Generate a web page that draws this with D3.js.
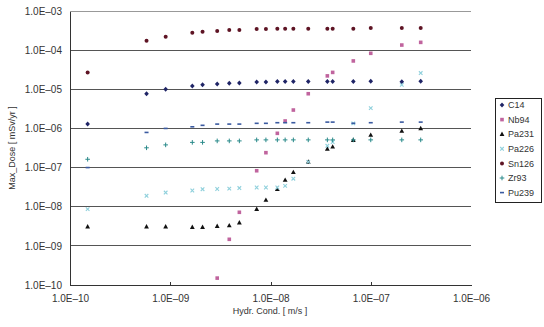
<!DOCTYPE html>
<html><head><meta charset="utf-8">
<script src="https://cdn.jsdelivr.net/npm/d3@7"></script>
<style>body{margin:0;background:#fff}svg{display:block}text{font-family:"Liberation Sans",Arial,sans-serif;fill:#333}</style>
</head><body><svg id="c" width="544" height="327"></svg>
<script>
const xValues = [1.5e-10,5.8e-10,9.0e-10,1.66e-9,2.1e-9,2.94e-9,3.88e-9,4.89e-9,7.28e-9,9.0e-9,1.17e-8,1.40e-8,1.69e-8,2.38e-8,3.69e-8,4.17e-8,6.7e-8,1.0e-7,2.04e-7,3.15e-7];
const seriesNames = ["C14","Nb94","Pa231","Pa226","Sn126","Zr93","Pu239"];
const C14   = [1.3e-6,7.7e-6,1.0e-5,1.21e-5,1.3e-5,1.37e-5,1.42e-5,1.45e-5,1.54e-5,1.54e-5,1.57e-5,1.58e-5,1.58e-5,1.58e-5,1.58e-5,1.58e-5,1.58e-5,1.6e-5,1.55e-5,1.6e-5];
const Nb94  = [null,null,null,null,null,1.5e-10,1.47e-9,7.2e-9,8.3e-8,2.4e-7,7.5e-7,1.55e-6,2.95e-6,7.7e-6,2.2e-5,2.7e-5,5.3e-5,8.3e-5,1.35e-4,1.58e-4];
const Pa231 = [3.1e-9,3.1e-9,3.1e-9,3.0e-9,3.0e-9,3.2e-9,3.3e-9,3.9e-9,8.7e-9,1.48e-8,2.8e-8,4.8e-8,7.6e-8,1.4e-7,3.0e-7,3.4e-7,5.0e-7,6.8e-7,8.6e-7,1.0e-6];
const Pa226 = [8.7e-9,1.9e-8,2.3e-8,2.6e-8,2.8e-8,2.84e-8,2.9e-8,3.0e-8,3.1e-8,3.1e-8,3.1e-8,3.4e-8,5.2e-8,1.4e-7,3.6e-7,4.5e-7,1.35e-6,3.3e-6,1.3e-5,2.6e-5];
const Sn126 = [2.7e-5,1.74e-4,2.2e-4,2.8e-4,2.96e-4,3.1e-4,3.27e-4,3.27e-4,3.47e-4,3.47e-4,3.5e-4,3.5e-4,3.5e-4,3.5e-4,3.5e-4,3.5e-4,3.5e-4,3.7e-4,3.7e-4,3.7e-4];
const Zr93  = [1.63e-7,3.2e-7,3.8e-7,4.4e-7,4.4e-7,4.8e-7,4.8e-7,4.8e-7,5.1e-7,5.1e-7,5.1e-7,5.1e-7,5.1e-7,5.1e-7,5.1e-7,5.1e-7,5.1e-7,5.1e-7,5.1e-7,5.1e-7];
const Pu239 = [1.0e-7,7.9e-7,1.0e-6,1.1e-6,1.2e-6,1.29e-6,1.29e-6,1.29e-6,1.35e-6,1.35e-6,1.4e-6,1.4e-6,1.4e-6,1.4e-6,1.45e-6,1.45e-6,1.35e-6,1.4e-6,1.45e-6,1.45e-6];
const xTicks = [1e-10,1e-9,1e-8,1e-7,1e-6];
const yTicks = [1e-10,1e-9,1e-8,1e-7,1e-6,1e-5,1e-4,1e-3];

const seriesData = [C14,Nb94,Pa231,Pa226,Sn126,Zr93,Pu239];
const styles = [
  {shape:"diamond", color:"#1f2466"},
  {shape:"square", color:"#c0649e"},
  {shape:"triangle", color:"#111111"},
  {shape:"x", color:"#8fd0dc"},
  {shape:"circle", color:"#5e1424"},
  {shape:"plus", color:"#2a8a8a"},
  {shape:"dash", color:"#3a5aa0"}
];

const svg = d3.select("#c");
const L=70,R=471,T=11,B=285;
const x = d3.scaleLog().domain([1e-10,1e-6]).range([L,R]);
const y = d3.scaleLog().domain([1e-10,1e-3]).range([B,T]);
const fmt = v => { const e=Math.round(Math.log10(v)); return "1.0E\u2013"+String(Math.abs(e)).padStart(2,"0"); };

svg.append("g").selectAll("line").data(yTicks.slice(1)).join("line")
  .attr("x1",L).attr("x2",R).attr("y1",d=>y(d)).attr("y2",d=>y(d))
  .attr("stroke",(d,i)=> i===yTicks.length-2 ? "#999" : "#555").attr("stroke-width",1).attr("shape-rendering","crispEdges");

const yAxis = d3.axisLeft(y).tickValues(yTicks).tickFormat(fmt).tickSize(0).tickPadding(8);
const gy = svg.append("g").attr("transform",`translate(${L},0)`).call(yAxis);
const xAxis = d3.axisBottom(x).tickValues(xTicks).tickFormat(fmt).tickSizeInner(-3).tickSizeOuter(0).tickPadding(10);
const gx = svg.append("g").attr("transform",`translate(0,${B})`).call(xAxis);
[gx,gy].forEach(g=>{
  g.select(".domain").attr("stroke","#333").attr("shape-rendering","crispEdges");
  g.selectAll(".tick line").attr("stroke","#333").attr("shape-rendering","crispEdges");
  g.selectAll("text").attr("font-size",10).attr("fill","#444").attr("font-family","Liberation Sans, Arial, sans-serif");
});
gx.selectAll(".tick").filter(d=>d===1e-10||d===1e-6).select("line").remove();

svg.append("text").attr("x",270).attr("y",314).attr("text-anchor","middle").attr("font-size",9).text("Hydr. Cond. [ m/s ]");
svg.append("text").attr("transform","translate(15,148) rotate(-90)").attr("text-anchor","middle").attr("font-size",9).text("Max_Dose [ mSv/yr ]");

function marker(g, shape, color){
  switch(shape){
    case "diamond": g.append("path").attr("d","M0,-2.5L2.3,0L0,2.5L-2.3,0Z").attr("fill",color); break;
    case "square": g.append("rect").attr("x",-1.8).attr("y",-1.8).attr("width",3.6).attr("height",3.6).attr("fill",color); break;
    case "triangle": g.append("path").attr("d","M0,-2.6L2.4,1.8L-2.4,1.8Z").attr("fill",color); break;
    case "x": g.append("path").attr("d","M-1.8,-1.8L1.8,1.8M1.8,-1.8L-1.8,1.8").attr("stroke",color).attr("stroke-width",1.1).attr("fill","none"); break;
    case "circle": g.append("circle").attr("r",2).attr("fill",color); break;
    case "plus": g.append("path").attr("d","M-2.3,0H2.3M0,-2.3V2.3").attr("stroke",color).attr("stroke-width",1).attr("fill","none"); break;
    case "dash": g.append("rect").attr("x",-2).attr("y",-0.8).attr("width",4).attr("height",1.6).attr("fill",color); break;
  }
}

seriesData.forEach((vals,si)=>{
  const g = svg.append("g");
  vals.forEach((v,i)=>{
    if(v==null) return;
    const m = g.append("g").attr("transform",`translate(${x(xValues[i])},${y(v)})`);
    marker(m, styles[si].shape, styles[si].color);
  });
});

const lg = svg.append("g");
lg.append("rect").attr("x",495.5).attr("y",98.5).attr("width",46).attr("height",104).attr("fill","#fff").attr("stroke","#222");
seriesNames.forEach((n,i)=>{
  const yy = 105 + i*14.6;
  const m = lg.append("g").attr("transform",`translate(502,${yy})`);
  marker(m, styles[i].shape, styles[i].color);
  lg.append("text").attr("x",508).attr("y",yy+3.2).attr("font-size",9).text(n);
});
</script></body></html>
